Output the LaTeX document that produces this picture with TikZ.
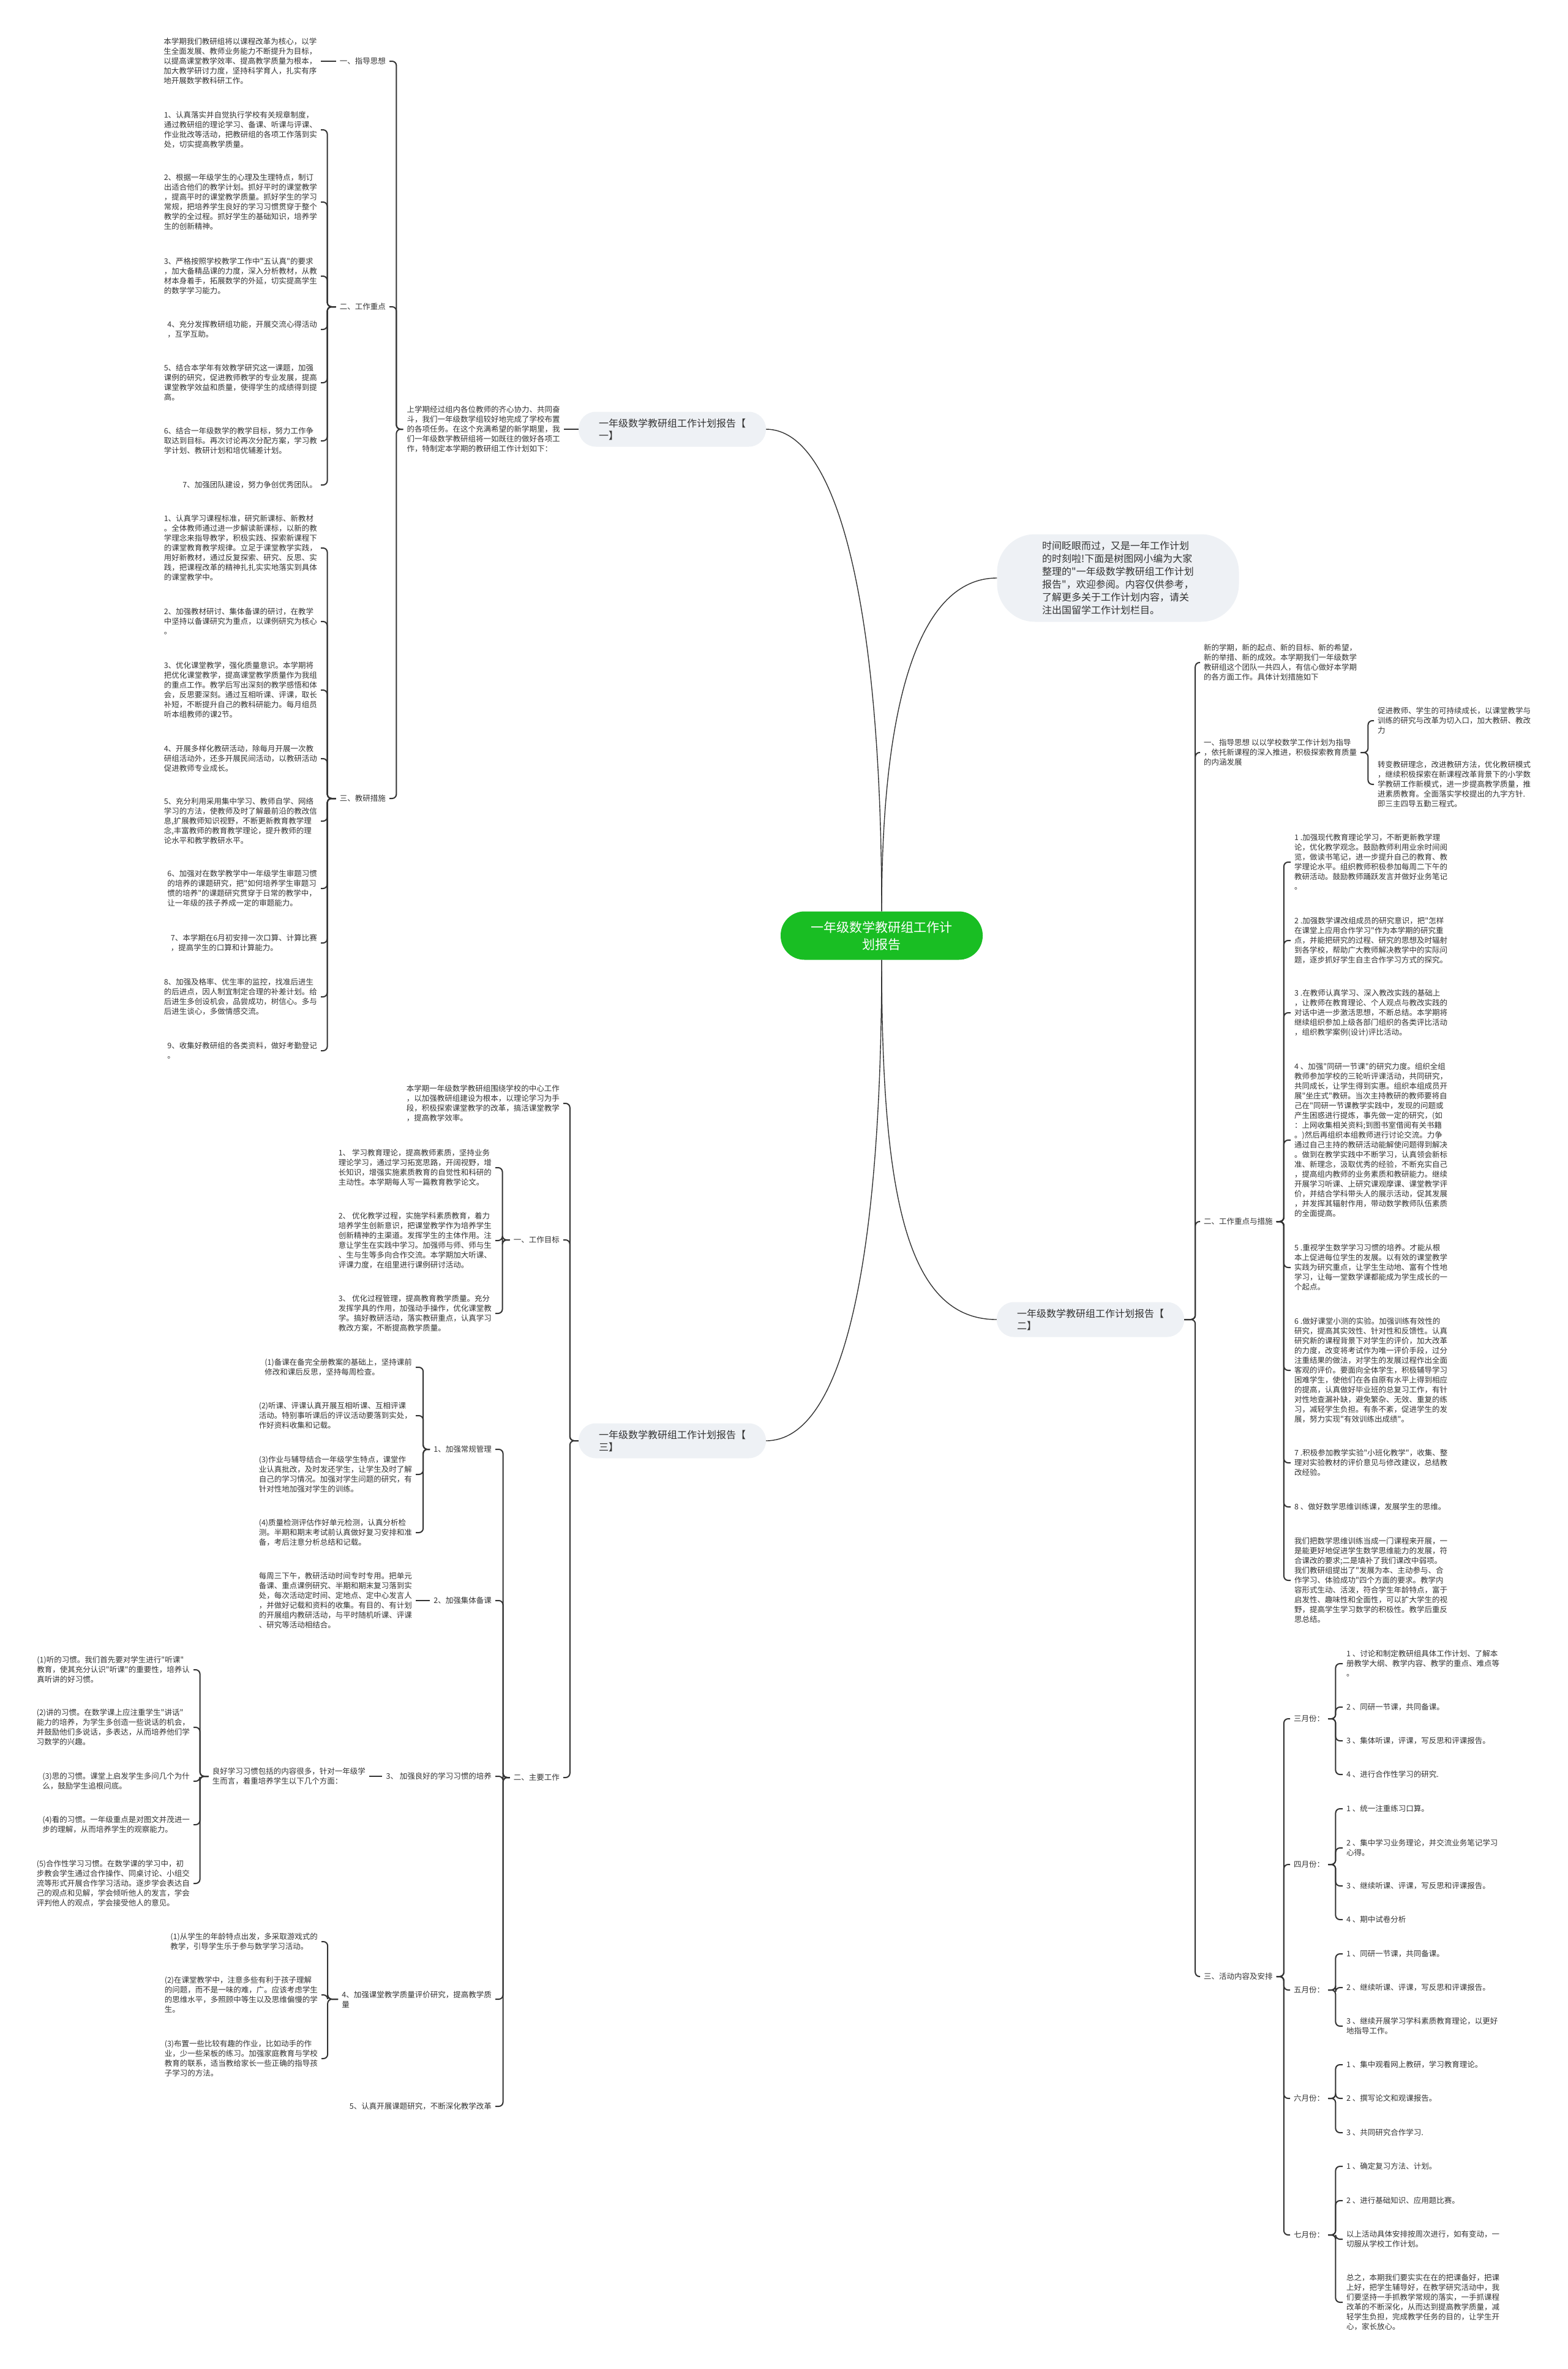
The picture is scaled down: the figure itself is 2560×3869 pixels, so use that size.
\documentclass[tikz,border=0pt]{standalone}
\usepackage{fontspec}
\newfontfamily\cjk{Noto Sans CJK SC}
\usetikzlibrary{positioning}
\definecolor{ink}{RGB}{51,51,51}
\definecolor{leaf}{RGB}{25,190,35}
\definecolor{pillfill}{RGB}{238,241,245}

\begin{document}
\begin{tikzpicture}[
  x=1pt, y=-1pt,
  txt/.style={font=\cjk\fontsize{12.5}{16}\selectfont, text=ink, align=left, inner xsep=6pt, inner ysep=0pt},
  ltxt/.style={txt, anchor=east},
  rtxt/.style={txt, anchor=west},
  report/.style={rectangle, rounded corners=28pt, fill=pillfill, minimum width=306pt, minimum height=57pt,
    inner xsep=33pt, font=\cjk\fontsize{16}{20}\selectfont, text=ink, align=left},
  rootbox/.style={rectangle, rounded corners=39pt, fill=leaf, minimum width=330pt, minimum height=79pt,
    font=\cjk\fontsize{21}{28}\selectfont, text=white, align=center},
  notebox/.style={rectangle, rounded corners=62pt, fill=pillfill, minimum width=395pt, minimum height=143pt,
    font=\cjk\fontsize{16}{21}\selectfont, text=ink, align=left},
  link/.style={draw=ink, line width=2pt, rounded corners=7pt},
  stemline/.style={draw=ink, line width=1.4pt}
]
\fill[white] (0,0) rectangle (2560,3869);
\useasboundingbox (0,0) rectangle (2560,3869);

\node[rootbox] (root) at (1440,1528) {一年级数学教研组工作计\\划报告};
\node[notebox] (note) at (1826,944) {时间眨眼而过，又是一年工作计划\\的时刻啦!下面是树图网小编为大家\\整理的"一年级数学教研组工作计划\\报告"，欢迎参阅。内容仅供参考，\\了解更多关于工作计划内容，请关\\注出国留学工作计划栏目。};
\node[report] (rpt1) at (1098,701) {一年级数学教研组工作计划报告【\\一】};
\node[report] (rpt2) at (1781,2155) {一年级数学教研组工作计划报告【\\二】};
\node[report] (rpt3) at (1098,2353) {一年级数学教研组工作计划报告【\\三】};

\draw[stemline] (root.north) .. controls (1440,1000) and (1370,701) .. (rpt1.east);
\draw[stemline] (root.north) .. controls (1440,1150) and (1500,944) .. (note.west);
\draw[stemline] (root.south) .. controls (1440,1950) and (1480,2155) .. (rpt2.west);
\draw[stemline] (root.south) .. controls (1440,2050) and (1380,2353) .. (rpt3.east);

% Report one
\node[ltxt, left=24pt of rpt1] (intro1) {上学期经过组内各位教师的齐心协力、共同奋\\斗，我们一年级数学组较好地完成了学校布置\\的各项任务。在这个充满希望的新学期里，我\\们一年级数学教研组将一如既往的做好各项工\\作，特制定本学期的教研组工作计划如下：};
\node[ltxt] (guide1) at (636,100) {一、指导思想};
\node[ltxt] (focus1) at (636,501) {二、工作重点};
\node[ltxt] (meas1) at (636,1304) {三、教研措施};
\node[ltxt, left=25pt of guide1] (guide1a) {本学期我们教研组将以课程改革为核心，以学\\生全面发展、教师业务能力不断提升为目标，\\以提高课堂教学效率、提高教学质量为根本，\\加大教学研讨力度，坚持科学育人，扎实有序\\地开展数学教科研工作。};

% Sub-nodes for focus
\node[ltxt] (f1) at (524,212) {1、认真落实并自觉执行学校有关规章制度，\\通过教研组的理论学习、备课、听课与评课、\\作业批改等活动，把教研组的各项工作落到实\\处，切实提高教学质量。};
\node[ltxt] (f2) at (524,330) {2、根据一年级学生的心理及生理特点，制订\\出适合他们的教学计划。抓好平时的课堂教学\\，提高平时的课堂教学质量。抓好学生的学习\\常规，把培养学生良好的学习习惯贯穿于整个\\教学的全过程。抓好学生的基础知识，培养学\\生的创新精神。};
\node[ltxt] (f3) at (524,451) {3、严格按照学校教学工作中"五认真"的要求\\，加大备精品课的力度，深入分析教材，从教\\材本身着手，拓展数学的外延，切实提高学生\\的数学学习能力。};
\node[ltxt] (f4) at (524,538) {4、充分发挥教研组功能，开展交流心得活动\\，互学互助。};
\node[ltxt] (f5) at (524,625) {5、结合本学年有效教学研究这一课题，加强\\课例的研究，促进教师教学的专业发展，提高\\课堂教学效益和质量，使得学生的成绩得到提\\高。};
\node[ltxt] (f6) at (524,720) {6、结合一年级数学的教学目标，努力工作争\\取达到目标。再次讨论再次分配方案，学习教\\学计划、教研计划和培优辅差计划。};
\node[ltxt] (f7) at (524,792) {7、加强团队建设，努力争创优秀团队。};

% Sub-nodes for measures
\node[ltxt] (m1) at (524,895) {1、认真学习课程标准，研究新课标、新教材\\。全体教师通过进一步解读新课标，以新的教\\学理念来指导教学，积极实践、探索新课程下\\的课堂教育教学规律。立足于课堂教学实践，\\用好新教材，通过反复探索、研究、反思、实\\践，把课程改革的精神扎扎实实地落实到具体\\的课堂教学中。};
\node[ltxt] (m2) at (524,1015) {2、加强教材研讨、集体备课的研讨，在教学\\中坚持以备课研究为重点，以课例研究为核心\\。};
\node[ltxt] (m3) at (524,1127) {3、优化课堂教学，强化质量意识。本学期将\\把优化课堂教学，提高课堂教学质量作为我组\\的重点工作。教学后写出深刻的教学感悟和体\\会，反思要深刻。通过互相听课、评课，取长\\补短，不断提升自己的教科研能力。每月组员\\听本组教师的课2节。};
\node[ltxt] (m4) at (524,1239) {4、开展多样化教研活动，除每月开展一次教\\研组活动外，还多开展民间活动，以教研活动\\促进教师专业成长。};
\node[ltxt] (m5) at (524,1341) {5、充分利用采用集中学习、教师自学、网络\\学习的方法，使教师及时了解最前沿的教改信\\息,扩展教师知识视野，不断更新教育教学理\\念,丰富教师的教育教学理论，提升教师的理\\论水平和教学教研水平。};
\node[ltxt] (m6) at (524,1451) {6、加强对在数学教学中一年级学生审题习惯\\的培养的课题研究，把"如何培养学生审题习\\惯的培养"的课题研究贯穿于日常的教学中，\\让一年级的孩子养成一定的审题能力。};
\node[ltxt] (m7) at (524,1540) {7、本学期在6月初安排一次口算、计算比赛\\，提高学生的口算和计算能力。};
\node[ltxt] (m8) at (524,1628) {8、加强及格率、优生率的监控，找准后进生\\的后进点，因人制宜制定合理的补差计划。给\\后进生多创设机会，品尝成功，树信心。多与\\后进生谈心，多做情感交流。};
\node[ltxt] (m9) at (524,1716) {9、收集好教研组的各类资料，做好考勤登记\\。};

\draw[link] (rpt1.west) -- (intro1.east);
\draw[link] (intro1.west) -- ++(-11,0) |- (guide1.east);
\draw[link] (intro1.west) -- ++(-11,0) |- (focus1.east);
\draw[link] (intro1.west) -- ++(-11,0) |- (meas1.east);
\draw[link] (guide1.west) -- (guide1a.east);
\draw[link] (focus1.west) -- ++(-14,0) |- (f1.east);
\draw[link] (focus1.west) -- ++(-14,0) |- (f2.east);
\draw[link] (focus1.west) -- ++(-14,0) |- (f3.east);
\draw[link] (focus1.west) -- ++(-14,0) |- (f4.east);
\draw[link] (focus1.west) -- ++(-14,0) |- (f5.east);
\draw[link] (focus1.west) -- ++(-14,0) |- (f6.east);
\draw[link] (focus1.west) -- ++(-14,0) |- (f7.east);
\draw[link] (meas1.west) -- ++(-14,0) |- (m1.east);
\draw[link] (meas1.west) -- ++(-14,0) |- (m2.east);
\draw[link] (meas1.west) -- ++(-14,0) |- (m3.east);
\draw[link] (meas1.west) -- ++(-14,0) |- (m4.east);
\draw[link] (meas1.west) -- ++(-14,0) |- (m5.east);
\draw[link] (meas1.west) -- ++(-14,0) |- (m6.east);
\draw[link] (meas1.west) -- ++(-14,0) |- (m7.east);
\draw[link] (meas1.west) -- ++(-14,0) |- (m8.east);
\draw[link] (meas1.west) -- ++(-14,0) |- (m9.east);

% Report two
\node[rtxt] (new2) at (1960,1082) {新的学期，新的起点、新的目标、新的希望，\\新的举措、新的成效。本学期我们一年级数学\\教研组这个团队一共四人，有信心做好本学期\\的各方面工作。具体计划措施如下};
\node[rtxt] (guide2) at (1960,1229) {一、指导思想 以以学校数学工作计划为指导\\，依托新课程的深入推进，积极探索教育质量\\的内涵发展};
\node[rtxt] (focus2) at (1960,1995) {二、工作重点与措施};
\node[rtxt] (plan2) at (1960,3228) {三、活动内容及安排};
\node[rtxt] (guide2a) at (2244,1177) {促进教师、学生的可持续成长，以课堂教学与\\训练的研究与改革为切入口，加大教研、教改\\力};
\node[rtxt] (guide2b) at (2244,1281) {转变教研理念，改进教研方法，优化教研模式\\，继续积极探索在新课程改革背景下的小学数\\学教研工作新模式，进一步提高教学质量，推\\进素质教育。全面落实学校提出的九字方针.\\即三主四导五勤三程式。};

% Sub-nodes for focus and measures
\node[rtxt] (p1) at (2108,1408) {1 .加强现代教育理论学习，不断更新教学理\\论，优化教学观念。鼓励教师利用业余时间阅\\览，做读书笔记，进一步提升自己的教育、教\\学理论水平。组织教师积极参加每周二下午的\\教研活动。鼓励教师踊跃发言并做好业务笔记\\。};
\node[rtxt] (p2) at (2108,1536) {2 .加强数学课改组成员的研究意识，把"怎样\\在课堂上应用合作学习"作为本学期的研究重\\点，并能把研究的过程、研究的思想及时辐射\\到各学校，帮助广大教师解决教学中的实际问\\题，逐步抓好学生自主合作学习方式的探究。};
\node[rtxt] (p3) at (2108,1654) {3 .在教师认真学习、深入教改实践的基础上\\，让教师在教育理论、个人观点与教改实践的\\对话中进一步激活思想，不断总结。本学期将\\继续组织参加上级各部门组织的各类评比活动\\，组织教学案例(设计)评比活动。};
\node[rtxt] (p4) at (2108,1862) {4 、加强"同研一节课"的研究力度。组织全组\\教师参加学校的三轮听评课活动，共同研究，\\共同成长，让学生得到实惠。组织本组成员开\\展"坐庄式"教研。当次主持教研的教师要将自\\己在"同研一节课教学实践中，发现的问题或\\产生困惑进行提炼，事先做一定的研究，(如\\：上网收集相关资料;到图书室借阅有关书籍\\。)然后再组织本组教师进行讨论交流。力争\\通过自己主持的教研活动能解使问题得到解决\\。做到在教学实践中不断学习，认真领会新标\\准、新理念，汲取优秀的经验，不断充实自己\\，提高组内教师的业务素质和教研能力。继续\\开展学习听课、上研究课观摩课、课堂教学评\\价，并结合学科带头人的展示活动，促其发展\\，并发挥其辐射作用，带动数学教师队伍素质\\的全面提高。};
\node[rtxt] (p5) at (2108,2070) {5 .重视学生数学学习习惯的培养。才能从根\\本上促进每位学生的发展。以有效的课堂教学\\实践为研究重点，让学生生动地、富有个性地\\学习，让每一堂数学课都能成为学生成长的一\\个起点。};
\node[rtxt] (p6) at (2108,2238) {6 .做好课堂小测的实验。加强训练有效性的\\研究，提高其实效性、针对性和反馈性。认真\\研究新的课程背景下对学生的评价，加大改革\\的力度，改变将考试作为唯一评价手段，过分\\注重结果的做法，对学生的发展过程作出全面\\客观的评价。要面向全体学生，积极辅导学习\\困难学生，使他们在各自原有水平上得到相应\\的提高，认真做好毕业班的总复习工作，有针\\对性地查漏补缺，避免繁杂、无效、重复的练\\习，减轻学生负担。有条不紊，促进学生的发\\展，努力实现"有效训练出成绩"。};
\node[rtxt] (p7) at (2108,2389) {7 .积极参加教学实验"小班化教学"，收集、整\\理对实验教材的评价意见与修改建议，总结教\\改经验。};
\node[rtxt] (p8) at (2108,2461) {8 、做好数学思维训练课，发展学生的思维。};
\node[rtxt] (p9) at (2108,2581) {我们把数学思维训练当成一门课程来开展，一\\是能更好地促进学生数学思维能力的发展，符\\合课改的要求;二是填补了我们课改中弱项。\\我们教研组提出了"发展为本、主动参与、合\\作学习、体验成功"四个方面的要求。教学内\\容形式生动、活泼，符合学生年龄特点，富于\\启发性、趣味性和全面性，可以扩大学生的视\\野，提高学生学习数学的积极性。教学后重反\\思总结。};

% Sub-nodes for months
\node[rtxt] (mar) at (2107,2807) {三月份：};
\node[rtxt] (apr) at (2107,3045) {四月份：};
\node[rtxt] (may) at (2107,3250) {五月份：};
\node[rtxt] (jun) at (2107,3427) {六月份：};
\node[rtxt] (jul) at (2107,3650) {七月份：};
\node[rtxt] (mar1) at (2193,2717) {1 、讨论和制定教研组具体工作计划、了解本\\册教学大纲、教学内容、教学的重点、难点等\\。};
\node[rtxt] (mar2) at (2193,2788) {2 、同研一节课，共同备课。};
\node[rtxt] (mar3) at (2193,2843) {3 、集体听课，评课，写反思和评课报告。};
\node[rtxt] (mar4) at (2193,2898) {4 、进行合作性学习的研究.};
\node[rtxt] (apr1) at (2193,2954) {1 、统一注重练习口算。};
\node[rtxt] (apr2) at (2193,3018) {2 、集中学习业务理论，并交流业务笔记学习\\心得。};
\node[rtxt] (apr3) at (2193,3080) {3 、继续听课、评课，写反思和评课报告。};
\node[rtxt] (apr4) at (2193,3135) {4 、期中试卷分析};
\node[rtxt] (may1) at (2193,3191) {1 、同研一节课，共同备课。};
\node[rtxt] (may2) at (2193,3246) {2 、继续听课、评课，写反思和评课报告。};
\node[rtxt] (may3) at (2193,3309) {3 、继续开展学习学科素质教育理论，以更好\\地指导工作。};
\node[rtxt] (jun1) at (2193,3372) {1 、集中观看网上教研，学习教育理论。};
\node[rtxt] (jun2) at (2193,3427) {2 、撰写论文和观课报告。};
\node[rtxt] (jun3) at (2193,3483) {3 、共同研究合作学习.};
\node[rtxt] (jul1) at (2193,3538) {1 、确定复习方法、计划。};
\node[rtxt] (jul2) at (2193,3594) {2 、进行基础知识、应用题比赛。};
\node[rtxt] (jul3) at (2193,3657) {以上活动具体安排按周次进行，如有变动，一\\切服从学校工作计划。};
\node[rtxt] (jul4) at (2193,3760) {总之，本期我们要实实在在的把课备好，把课\\上好，把学生辅导好，在教学研究活动中，我\\们要坚持一手抓教学常规的落实，一手抓课程\\改革的不断深化，从而达到提高教学质量，减\\轻学生负担，完成教学任务的目的，让学生开\\心，家长放心。};

\draw[link] (rpt2.east) -- ++(18,0) |- (new2.west);
\draw[link] (rpt2.east) -- ++(18,0) |- (guide2.west);
\draw[link] (rpt2.east) -- ++(18,0) |- (focus2.west);
\draw[link] (rpt2.east) -- ++(18,0) |- (plan2.west);
\draw[link] (guide2.east) -- ++(12,0) |- (guide2a.west);
\draw[link] (guide2.east) -- ++(12,0) |- (guide2b.west);
\draw[link] (focus2.east) -- ++(12,0) |- (p1.west);
\draw[link] (focus2.east) -- ++(12,0) |- (p2.west);
\draw[link] (focus2.east) -- ++(12,0) |- (p3.west);
\draw[link] (focus2.east) -- ++(12,0) |- (p4.west);
\draw[link] (focus2.east) -- ++(12,0) |- (p5.west);
\draw[link] (focus2.east) -- ++(12,0) |- (p6.west);
\draw[link] (focus2.east) -- ++(12,0) |- (p7.west);
\draw[link] (focus2.east) -- ++(12,0) |- (p8.west);
\draw[link] (focus2.east) -- ++(12,0) |- (p9.west);
\draw[link] (plan2.east) -- ++(12,0) |- (mar.west);
\draw[link] (plan2.east) -- ++(12,0) |- (apr.west);
\draw[link] (plan2.east) -- ++(12,0) |- (may.west);
\draw[link] (plan2.east) -- ++(12,0) |- (jun.west);
\draw[link] (plan2.east) -- ++(12,0) |- (jul.west);
\draw[link] (mar.east) -- ++(12,0) |- (mar1.west);
\draw[link] (mar.east) -- ++(12,0) |- (mar2.west);
\draw[link] (mar.east) -- ++(12,0) |- (mar3.west);
\draw[link] (mar.east) -- ++(12,0) |- (mar4.west);
\draw[link] (apr.east) -- ++(12,0) |- (apr1.west);
\draw[link] (apr.east) -- ++(12,0) |- (apr2.west);
\draw[link] (apr.east) -- ++(12,0) |- (apr3.west);
\draw[link] (apr.east) -- ++(12,0) |- (apr4.west);
\draw[link] (may.east) -- ++(12,0) |- (may1.west);
\draw[link] (may.east) -- ++(12,0) |- (may2.west);
\draw[link] (may.east) -- ++(12,0) |- (may3.west);
\draw[link] (jun.east) -- ++(12,0) |- (jun1.west);
\draw[link] (jun.east) -- ++(12,0) |- (jun2.west);
\draw[link] (jun.east) -- ++(12,0) |- (jun3.west);
\draw[link] (jul.east) -- ++(12,0) |- (jul1.west);
\draw[link] (jul.east) -- ++(12,0) |- (jul2.west);
\draw[link] (jul.east) -- ++(12,0) |- (jul3.west);
\draw[link] (jul.east) -- ++(12,0) |- (jul4.west);

% Report three
\node[ltxt] (intro3) at (920,1802) {本学期一年级数学教研组围绕学校的中心工作\\，以加强教研组建设为根本，以理论学习为手\\段，积极探索课堂教学的改革，搞活课堂教学\\，提高教学效率。};
\node[ltxt] (goal3) at (920,2025) {一、工作目标};
\node[ltxt] (work3) at (920,2903) {二、主要工作};
\node[ltxt] (g1) at (809,1907) {1、 学习教育理论，提高教师素质，坚持业务\\理论学习，通过学习拓宽思路，开阔视野，增\\长知识，增强实施素质教育的自觉性和科研的\\主动性。本学期每人写一篇教育教学论文。};
\node[ltxt] (g2) at (809,2026) {2、 优化教学过程，实施学科素质教育，着力\\培养学生创新意识，把课堂教学作为培养学生\\创新精神的主渠道。发挥学生的主体作用。注\\意让学生在实践中学习。加强师与师、师与生\\、生与生等多向合作交流。本学期加大听课、\\评课力度，在组里进行课例研讨活动。};
\node[ltxt] (g3) at (809,2145) {3、 优化过程管理，提高教育教学质量。充分\\发挥学具的作用，加强动手操作，优化课堂教\\学。搞好教研活动，落实教研重点，认真学习\\教改方案，不断提高教学质量。};

% Sub-nodes for main work
\node[ltxt] (w1) at (809,2367) {1、加强常规管理};
\node[ltxt] (w2) at (809,2614) {2、加强集体备课};
\node[ltxt] (w3) at (809,2901) {3、 加强良好的学习习惯的培养};
\node[ltxt] (w4) at (809,3265) {4、加强课堂教学质量评价研究，提高教学质\\量};
\node[ltxt] (w5) at (809,3440) {5、认真开展课题研究，不断深化教学改革};
\node[ltxt] (w1a) at (679,2233) {(1)备课在备完全册教案的基础上，坚持课前\\修改和课后反思，坚持每周检查。};
\node[ltxt] (w1b) at (679,2312) {(2)听课、评课认真开展互相听课、互相评课\\活动。特别事听课后的评议活动要落到实处，\\作好资料收集和记载。};
\node[ltxt] (w1c) at (679,2408) {(3)作业与辅导结合一年级学生特点，课堂作\\业认真批改，及时发还学生，让学生及时了解\\自己的学习情况。加强对学生问题的研究，有\\针对性地加强对学生的训练。};
\node[ltxt] (w1d) at (679,2503) {(4)质量检测评估作好单元检测，认真分析检\\测。半期和期末考试前认真做好复习安排和准\\备，考后注意分析总结和记载。};
\node[ltxt] (w2a) at (679,2614) {每周三下午，教研活动时间专时专用。把单元\\备课、重点课例研究、半期和期末复习落到实\\处，每次活动定时间、定地点、定中心发言人\\，并做好记载和资料的收集。有目的、有计划\\的开展组内教研活动，与平时随机听课、评课\\、研究等活动相结合。};
\node[ltxt] (habit) at (603,2901) {良好学习习惯包括的内容很多，针对一年级学\\生而言，着重培养学生以下几个方面：};
\node[ltxt] (h1) at (316,2727) {(1)听的习惯。我们首先要对学生进行"听课"\\教育，使其充分认识"听课"的重要性，培养认\\真听讲的好习惯。};
\node[ltxt] (h2) at (316,2821) {(2)讲的习惯。在数学课上应注重学生"讲话"\\能力的培养，为学生多创造一些说话的机会，\\并鼓励他们多说话，多表达，从而培养他们学\\习数学的兴趣。};
\node[ltxt] (h3) at (316,2909) {(3)思的习惯。课堂上启发学生多问几个为什\\么，鼓励学生追根问底。};
\node[ltxt] (h4) at (316,2980) {(4)看的习惯。一年级重点是对图文并茂进一\\步的理解，从而培养学生的观察能力。};
\node[ltxt] (h5) at (316,3076) {(5)合作性学习习惯。在数学课的学习中，初\\步教会学生通过合作操作、同桌讨论、小组交\\流等形式开展合作学习活动。逐步学会表达自\\己的观点和见解，学会倾听他人的发言，学会\\评判他人的观点，学会接受他人的意见。};
\node[ltxt] (w4a) at (525,3171) {(1)从学生的年龄特点出发，多采取游戏式的\\教学，引导学生乐于参与数学学习活动。};
\node[ltxt] (w4b) at (525,3258) {(2)在课堂教学中，注意多些有利于孩子理解\\的问题，而不是一味的难，广。应该考虑学生\\的思维水平，多照顾中等生以及思维偏慢的学\\生。};
\node[ltxt] (w4c) at (525,3362) {(3)布置一些比较有趣的作业，比如动手的作\\业，少一些呆板的练习。加强家庭教育与学校\\教育的联系，适当教给家长一些正确的指导孩\\子学习的方法。};

\draw[link] (rpt3.west) -- ++(-14,0) |- (intro3.east);
\draw[link] (rpt3.west) -- ++(-14,0) |- (goal3.east);
\draw[link] (rpt3.west) -- ++(-14,0) |- (work3.east);
\draw[link] (goal3.west) -- ++(-12,0) |- (g1.east);
\draw[link] (goal3.west) -- ++(-12,0) |- (g2.east);
\draw[link] (goal3.west) -- ++(-12,0) |- (g3.east);
\draw[link] (work3.west) -- ++(-11,0) |- (w1.east);
\draw[link] (work3.west) -- ++(-11,0) |- (w2.east);
\draw[link] (work3.west) -- ++(-11,0) |- (w3.east);
\draw[link] (work3.west) -- ++(-11,0) |- (w4.east);
\draw[link] (work3.west) -- ++(-11,0) |- (w5.east);
\draw[link] (w1.west) -- ++(-11,0) |- (w1a.east);
\draw[link] (w1.west) -- ++(-11,0) |- (w1b.east);
\draw[link] (w1.west) -- ++(-11,0) |- (w1c.east);
\draw[link] (w1.west) -- ++(-11,0) |- (w1d.east);
\draw[link] (w2.west) -- (w2a.east);
\draw[link] (w3.west) -- (habit.east);
\draw[link] (habit.west) -- ++(-14,0) |- (h1.east);
\draw[link] (habit.west) -- ++(-14,0) |- (h2.east);
\draw[link] (habit.west) -- ++(-14,0) |- (h3.east);
\draw[link] (habit.west) -- ++(-14,0) |- (h4.east);
\draw[link] (habit.west) -- ++(-14,0) |- (h5.east);
\draw[link] (w4.west) -- ++(-17,0) |- (w4a.east);
\draw[link] (w4.west) -- ++(-17,0) |- (w4b.east);
\draw[link] (w4.west) -- ++(-17,0) |- (w4c.east);
\end{tikzpicture}
\end{document}
